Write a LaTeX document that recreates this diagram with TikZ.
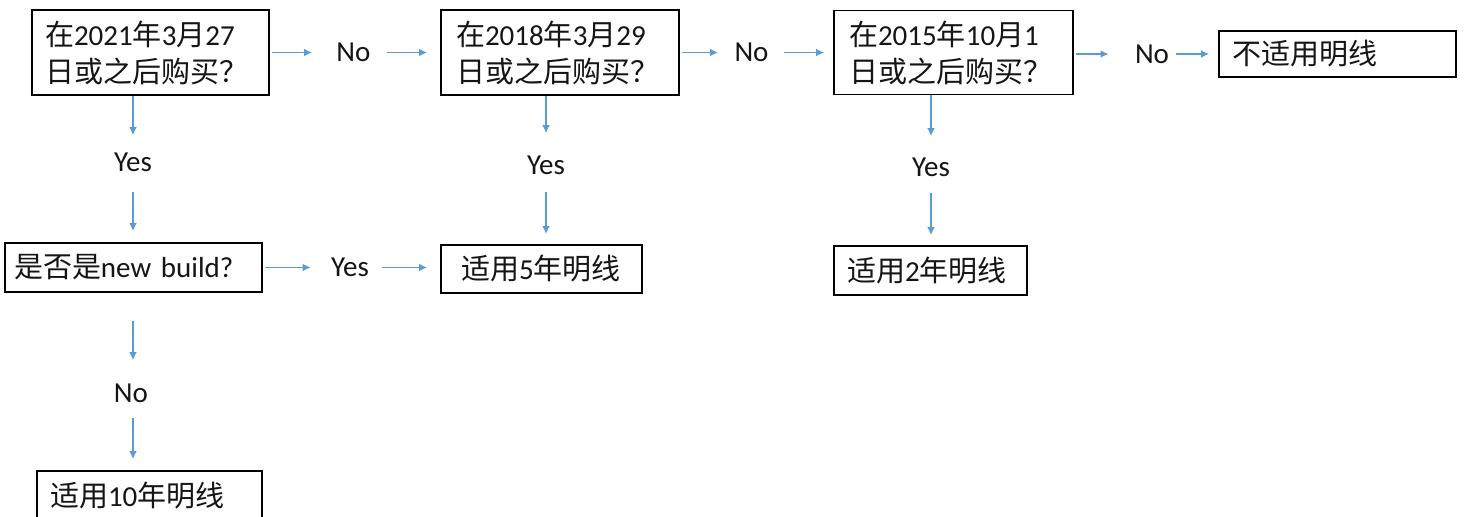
\documentclass[tikz,border=0pt]{standalone}
\usepackage{fontspec}
\setmainfont{Carlito}
\newfontfamily\cjkf{Noto Sans CJK SC}
\newcommand{\C}[1]{{\cjkf #1}}
\usetikzlibrary{arrows.meta}
\definecolor{arrblue}{HTML}{5B9BD5}
\definecolor{txt}{HTML}{151515}
\tikzset{
  box/.style={draw=black, line width=0.9pt, align=left, inner xsep=6.5pt, inner ysep=0pt,
    text=txt, font=\fontsize{14.5}{18.5}\selectfont},
  lbl/.style={inner sep=0pt, text=txt, font=\fontsize{14.5}{18.5}\selectfont},
  arr/.style={draw=arrblue, line width=0.65pt, -{Latex[length=4pt,width=3.8pt]}},
}
\begin{document}
\begin{tikzpicture}[x=0.5pt,y=-0.5pt]
\useasboundingbox[fill=white] (0,0) rectangle (1466,517);
% boxes
\node[box, text width=105.5pt, minimum height=42.5pt] (A) at (150.5,52.5)
  {\C{在}2021\C{年}3\C{月}27\\\C{日或之后购买？}};
\node[box, text width=104pt, inner xsep=7.5pt, minimum height=42.5pt] (B) at (560,52.5)
  {\C{在}2018\C{年}3\C{月}29\\\C{日或之后购买？}};
\node[box, text width=104.5pt, inner xsep=7.5pt, minimum height=42pt] (C) at (953.5,52.5)
  {\C{在}2015\C{年}10\C{月}1\\\C{日或之后购买？}};
\node[box, text width=105.5pt, minimum height=23pt] (D) at (1337.5,54) {\C{不适用明线}};
\node[box, text width=119.5pt, inner xsep=4.5pt, minimum height=24.5pt] (E) at (133.5,267.5)
  {\C{是否是}new build?};
\node[box, text width=80.5pt, inner xsep=10pt, minimum height=24pt] (F) at (541.5,269) {\C{适用}5\C{年明线}};
\node[box, text width=83.5pt, minimum height=24.5pt] (G) at (930.5,270.5) {\C{适用}2\C{年明线}};
\node[box, text width=99.5pt, minimum height=25pt] (H) at (149.5,496) {\C{适用}10\C{年明线}};
% labels
\node[lbl] (nA) at (353.5,52.5) {No};
\node[lbl] (nB) at (751.5,52.5) {No};
\node[lbl] (nC) at (1152,54) {No};
\node[lbl] (yA) at (133,162) {Yes};
\node[lbl] (yB) at (546,165) {Yes};
\node[lbl] (yC) at (931,167) {Yes};
\node[lbl] (yE) at (350,267.5) {Yes};
\node[lbl] (nE) at (131,393) {No};
% connectors
\draw[arr, shorten <=1pt, shorten >=12pt] (A.east) -- (nA.west);
\draw[arr, shorten <=8pt, shorten >=6.5pt] (nA.east) -- (nA.east -| B.west);
\draw[arr, shorten <=1pt, shorten >=8pt] (B.east) -- (nB.west);
\draw[arr, shorten <=7.5pt, shorten >=4.5pt] (nB.east) -- (nB.east -| C.west);
\draw[arr, shorten <=1pt, shorten >=13pt] (nC.west -| C.east) -- (nC.west);
\draw[arr, shorten <=3.5pt, shorten >=4.5pt] (nC.east) -- (nC.east -| D.west);
\draw[arr, shorten >=8.5pt] (yA |- A.south) -- (yA.north);
\draw[arr, shorten <=10pt, shorten >=5.5pt] (yA.south) -- (yA |- E.north);
\draw[arr, shorten <=1pt, shorten >=10pt] (E.east) -- (yE.west);
\draw[arr, shorten <=6.5pt, shorten >=6.5pt] (yE.east) -- (yE.east -| F.west);
\draw[arr, shorten >=11pt] (yB |- B.south) -- (yB.north);
\draw[arr, shorten <=8.5pt, shorten >=5pt] (yB.south) -- (yB |- F.north);
\draw[arr, shorten >=10.5pt] (yC |- C.south) -- (yC.north);
\draw[arr, shorten <=8pt, shorten >=5pt] (yC.south) -- (yC |- G.north);
\draw[arr, shorten <=14pt, shorten >=11.5pt] (133,0 |- E.south) coordinate (eS) -- (eS |- nE.north);
\draw[arr, shorten <=7.5pt, shorten >=5.5pt] (eS |- nE.south) -- (eS |- H.north);
\end{tikzpicture}
\end{document}
